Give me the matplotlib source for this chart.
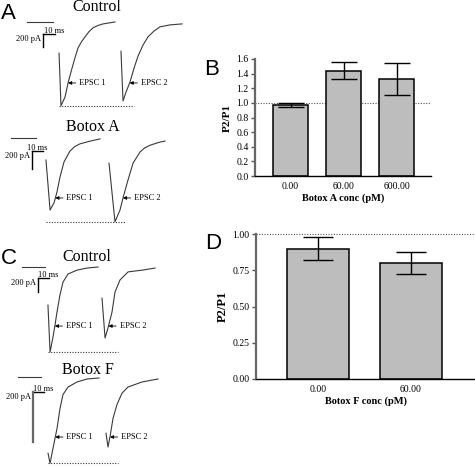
import numpy as np
import matplotlib
matplotlib.use("Agg")
import matplotlib.pyplot as plt

plt.rcParams['font.family'] = ['Liberation Serif', 'DejaVu Serif']

# --- dados ---
# traces: tempo (ms) e corrente (pA), relativo ao baseline
ctlA_base_t = [0, 22]
ctlA_e1_t = [26.7, 28.3, 31.7, 34.2, 36.2, 38.3, 40.4, 42.5, 45.4, 48.3, 51.6, 55, 59, 63.3, 73.3]
ctlA_e1_i = [-480, -1290, -1155, -940, -800, -660, -525, -400, -305, -230, -150, -90, -55, -30, 0]
ctlA_e2_t = [78.3, 80, 82.5, 85.8, 89.2, 92.5, 96.7, 100.8, 105.8, 110.8, 119.2, 129.2]
ctlA_e2_i = [-450, -1215, -1080, -925, -710, -525, -355, -230, -140, -75, -45, -30]

botA_base_t = [0, 22.7]
botA_e1_t = [31.8, 35.5, 39.1, 41.8, 44.5, 48.2, 53.6, 58, 62.7, 71.8, 80.9]
botA_e1_i = [-245, -800, -720, -600, -435, -265, -145, -95, -65, -35, -10]
botA_e2_t = [89.1, 94.5, 99.1, 101.8, 106.4, 110.9, 117.3, 121.5, 126.4, 135.5, 140]
botA_e2_i = [-280, -930, -800, -665, -465, -280, -155, -110, -80, -45, -35]

ctlC_base_t = [0, 20.9]
ctlC_e1_t = [23.6, 25.5, 28.2, 30, 31.8, 34.5, 37.3, 41.8, 50, 59.1, 69.1]
ctlC_e1_i = [-545, -1215, -1000, -830, -645, -400, -215, -100, -45, -15, 0]
ctlC_e2_t = [72.7, 75.5, 78.2, 81.8, 84.5, 89.1, 96.4, 109.1, 120.9]
ctlC_e2_i = [-445, -1015, -870, -645, -360, -185, -70, -45, -15]

botF_base_t = [0, 20.9]
botF_e1_t = [27.3, 29.1, 31.8, 35.5, 38.2, 40.9, 45.5, 53.6, 62.7, 73.6]
botF_e1_i = [-305, -345, -285, -205, -125, -70, -40, -20, -8, -4]
botF_e2_t = [80, 81.8, 83.6, 86.4, 90, 94.5, 100, 112.7, 127.3]
botF_e2_i = [-225, -280, -240, -165, -110, -65, -40, -20, -8]

# barras P2/P1
concA = ['0.00', '60.00', '600.00']
ratioA = [0.97, 1.44, 1.33]
errA = [0.03, 0.12, 0.22]

concF = ['0.00', '60.00']
ratioF = [0.90, 0.80]
errF = [0.076, 0.078]

W, H = 475, 466
fig = plt.figure(figsize=(W / 100, H / 100), dpi=100)


def px_axes(x0, y0, x1, y1):
    # cria eixos a partir de uma caixa em pixels (origem no canto superior esquerdo)
    return fig.add_axes([x0 / W, 1 - y1 / H, (x1 - x0) / W, (y1 - y0) / H])


def rising_t(t, i, level):
    # tempo em que a fase de subida cruza um certo nivel de corrente
    k = int(np.argmin(i))
    return float(np.interp(level, i[k:], t[k:]))


def trace_panel(box, xlim, ylim, base_t, e1_t, e1_i, e2_t, e2_i, title, title_pos,
                corner, ms_dx, arrow_i, dot_end, vbar_color='black', vbar_lw=1.0):
    ax = px_axes(*box)
    ax.set_xlim(*xlim)
    ax.set_ylim(*ylim)
    ax.axis('off')
    col = '#3a3a3a'
    ax.plot(base_t, [0] * len(base_t), color=col, lw=0.8)
    ax.plot(e1_t, e1_i, color=col, lw=0.8)
    ax.plot(e2_t, e2_i, color=col, lw=0.8)
    peak = min(min(e1_i), min(e2_i))
    ax.plot([e1_t[0], dot_end], [peak, peak], color='#333333', lw=0.8, ls=(0, (1, 1.4)))

    # barra de escala 10 ms / 200 pA
    cx, cy = corner
    ax.plot([cx, cx + 10], [cy, cy], color='black', lw=1.0)
    ax.plot([cx, cx], [cy, cy - 200], color=vbar_color, lw=vbar_lw)
    ax.annotate('10 ms', xy=(cx, cy), xytext=(ms_dx, 0.5), textcoords='offset points',
                ha='left', va='baseline', fontsize=6)
    ax.annotate('200 pA', xy=(cx, cy), xytext=(-1.5, -3.5), textcoords='offset points',
                ha='right', va='center', fontsize=6)

    ax.text(title_pos[0], title_pos[1], title, ha='center', va='center', fontsize=11.5)

    for lab, t, i in [('EPSC 1', e1_t, e1_i), ('EPSC 2', e2_t, e2_i)]:
        tip = rising_t(np.array(t), np.array(i), arrow_i)
        ax.annotate(lab, xy=(tip, arrow_i), xytext=(8, 0), textcoords='offset points',
                    ha='left', va='center', fontsize=6,
                    arrowprops=dict(arrowstyle='-|>', color='black', lw=0.6,
                                    mutation_scale=5, shrinkA=0.5, shrinkB=0))
    return ax


trace_panel((0, 0, 235, 110), (-22.5, 173.3), (-1355, 338),
            ctlA_base_t, ctlA_e1_t, ctlA_e1_i, ctlA_e2_t, ctlA_e2_i,
            'Control', (58.3, 231), (13.3, -185), 0.5, -939, 89.2)
trace_panel((0, 110, 235, 230), (-10, 203.6), (-1022, 311),
            botA_base_t, botA_e1_t, botA_e1_i, botA_e2_t, botA_e2_i,
            'Botox A', (74.5, 122), (19.1, -144), -3.5, -666, 104.5)
trace_panel((0, 240, 235, 355), (-20, 193.6), (-1258, 386),
            ctlC_base_t, ctlC_e1_t, ctlC_e1_i, ctlC_e2_t, ctlC_e2_i,
            'Control', (59, 143), (14.5, -157), 0.0, -844, 87.3)
trace_panel((0, 355, 235, 466), (-16.4, 197.3), (-356, 88),
            botF_base_t, botF_e1_t, botF_e1_i, botF_e2_t, botF_e2_i,
            'Botox F', (63.6, 28), (13.6, -60), 0.0, -240, 90.9,
            vbar_color='#666666', vbar_lw=1.6)


def bar_panel(box, conc, ratio, err, xlim, ylim, yticks, fmt, xlabel, capsize, ylab_size):
    ax = px_axes(*box)
    x = np.arange(len(conc))
    ax.bar(x, ratio, width=0.66, color='#bdbdbd', edgecolor='black', linewidth=1.1, zorder=2)
    ax.errorbar(x, ratio, yerr=err, fmt='none', ecolor='black', elinewidth=1.0,
                capsize=capsize, capthick=1.0, zorder=3)
    ax.axhline(1.0, color='#555555', lw=0.8, ls=(0, (1, 1.4)), clip_on=False, zorder=1)
    ax.set_xlim(*xlim)
    ax.set_ylim(*ylim)
    ax.set_yticks(yticks)
    ax.set_yticklabels([fmt % v for v in yticks], fontsize=7)
    ax.set_xticks(x)
    ax.set_xticklabels(conc, fontsize=7)
    ax.tick_params(axis='x', length=0, pad=4)
    ax.tick_params(axis='y', length=3, width=1, pad=1.5, color='#555555')
    ax.spines['top'].set_visible(False)
    ax.spines['right'].set_visible(False)
    ax.spines['left'].set_color('#666666')
    ax.spines['left'].set_linewidth(1.6)
    ax.spines['bottom'].set_linewidth(1.0)
    ax.set_xlabel(xlabel, fontsize=7.5, fontweight='bold', labelpad=2)
    ax.set_ylabel('P2/P1', fontsize=ylab_size, fontweight='bold', labelpad=3)
    return ax


bar_panel((255, 59, 431, 176), concA, ratioA, errA, (-0.67, 2.65), (0, 1.6),
          [0.0, 0.2, 0.4, 0.6, 0.8, 1.0, 1.2, 1.4, 1.6], '%.1f', 'Botox A conc (pM)', 9.5, 8)
bar_panel((256, 234, 476, 379), concF, ratioF, errF, (-0.667, 1.7), (0, 1.0),
          [0.0, 0.25, 0.5, 0.75, 1.0], '%.2f', 'Botox F conc (pM)', 11, 9)

# letras dos paineis
for lab, x, y in [('A', 1, 19), ('B', 204, 75), ('C', 1, 264), ('D', 205, 249)]:
    fig.text(x / W, 1 - y / H, lab, fontsize=16, family=['Liberation Sans', 'DejaVu Sans'],
             va='baseline', ha='left')

fig.savefig('out.png', dpi=100)
